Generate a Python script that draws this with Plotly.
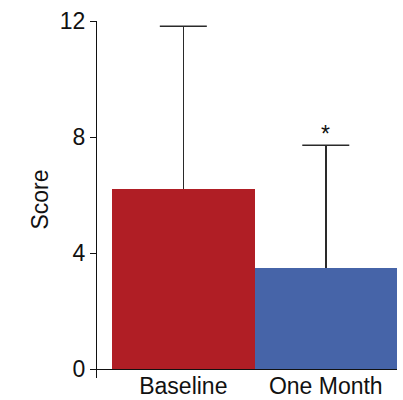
import plotly.graph_objects as go

categories = ["Baseline", "One Month"]
means = [6.22, 3.48]
err_upper = [5.6, 4.24]
err_lower = [0, 0]
bar_colors = ["#B01E25", "#4664A8"]
y_ticks = [0, 4, 8, 12]
sig_marks = ["", "*"]

ERR_COLOR = "#2a2a2a"
CAP_HALF = 0.165  # cap half-width in x-axis units

fig = go.Figure()
fig.add_trace(go.Bar(
    x=[0, 1], y=means,
    marker=dict(color=bar_colors, line=dict(width=0)),
    width=1,
    error_y=dict(type="data", symmetric=False, array=err_upper, arrayminus=err_lower,
                 color=ERR_COLOR, thickness=1.6, width=0),
))
# top caps of the error bars
fig.add_trace(go.Scatter(
    x=[0, 1], y=[m + e for m, e in zip(means, err_upper)],
    mode="markers", marker=dict(size=1, opacity=0), hoverinfo="skip",
    error_x=dict(type="constant", value=CAP_HALF, color=ERR_COLOR, thickness=1.6, width=0),
))
for i, m in enumerate(sig_marks):
    if m:
        fig.add_annotation(x=i, y=means[i] + err_upper[i], text=m, showarrow=False,
                           yshift=11, font=dict(size=23, color="#111", family="Liberation Sans, Arial"))

fig.update_layout(
    width=403, height=400,
    margin=dict(l=97, r=6, t=21, b=22),
    plot_bgcolor="white", paper_bgcolor="white",
    showlegend=False,
    font=dict(family="Liberation Sans, Arial, sans-serif", color="#111"),
    bargap=0,
)
fig.update_xaxes(
    range=[-0.606, 1.5], tickmode="array", tickvals=[0, 1], ticktext=categories,
    showgrid=False, zeroline=False, showline=False, ticks="", automargin=False,
    tickfont=dict(size=23, color="#111"), ticklabelstandoff=-8,
)
fig.update_yaxes(
    range=[-0.3, 12], tickmode="array", tickvals=y_ticks, automargin=False,
    showgrid=False, zeroline=True, zerolinecolor="#111", zerolinewidth=1.3,
    showline=True, linecolor="#111", linewidth=1.3,
    ticks="outside", ticklen=6, tickwidth=1.3, tickcolor="#111",
    tickfont=dict(size=23, color="#111"),
    title=dict(text="Score", font=dict(size=23, color="#111"), standoff=4),
)
fig.write_html("out.html", config={"displayModeBar": False},
               post_script="document.body.style.margin='0px';")
